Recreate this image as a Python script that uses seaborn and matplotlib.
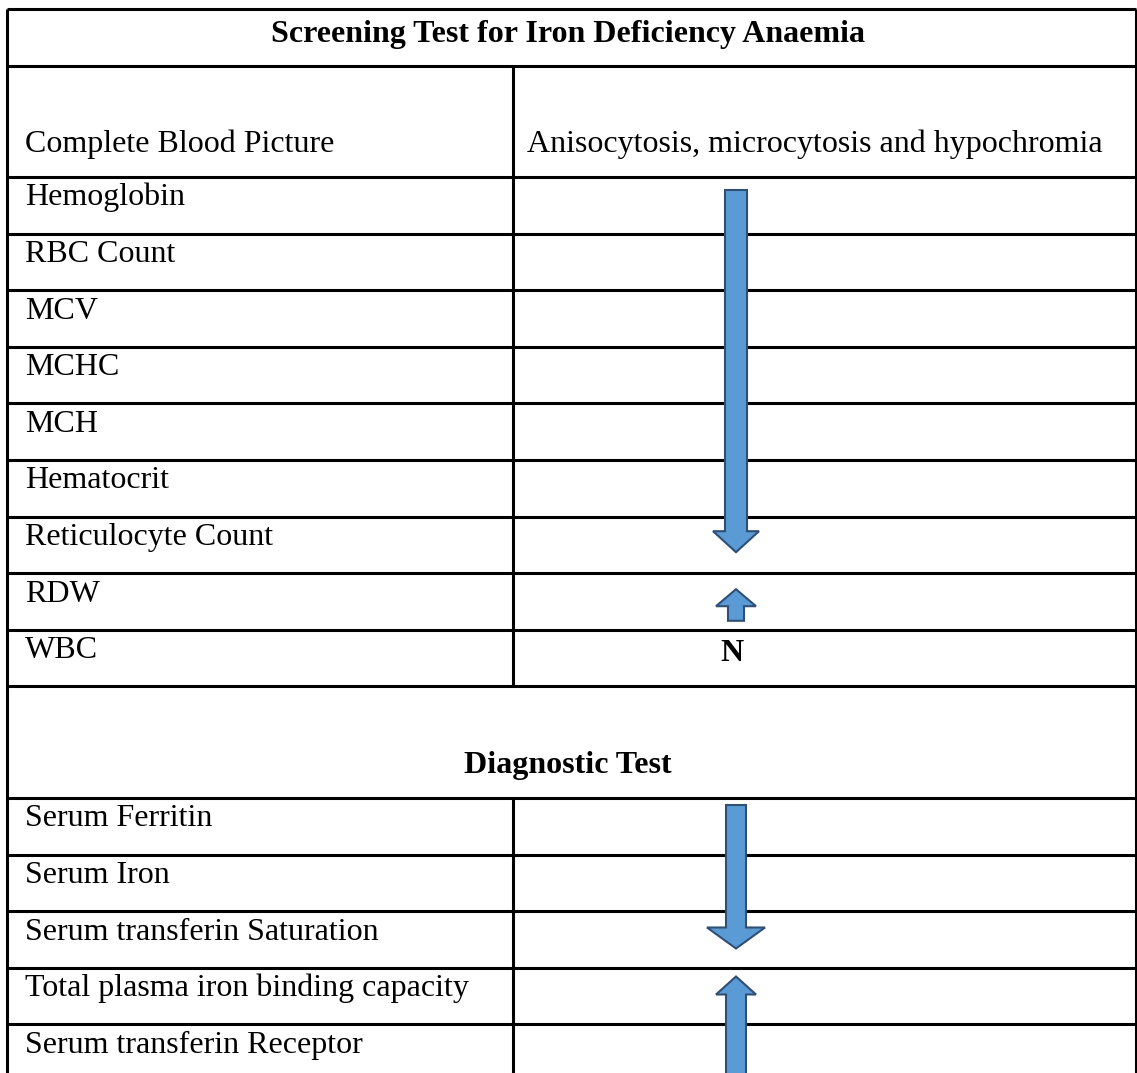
import numpy as np
import matplotlib.pyplot as plt
import seaborn as sns
from matplotlib.patches import FancyArrow

# table content
title = 'Screening Test for Iron Deficiency Anaemia'
header_left = 'Complete Blood Picture'
header_right = 'Anisocytosis, microcytosis and hypochromia'
screening_tests = ['Hemoglobin', 'RBC Count', 'MCV', 'MCHC', 'MCH', 'Hematocrit',
                   'Reticulocyte Count', 'RDW', 'WBC']
screening_trend = ['down', 'down', 'down', 'down', 'down', 'down', 'down', 'up', 'N']
diag_title = 'Diagnostic Test'
diagnostic_tests = ['Serum Ferritin', 'Serum Iron', 'Serum transferin Saturation',
                    'Total plasma iron binding capacity', 'Serum transferin Receptor']
diagnostic_trend = ['down', 'down', 'down', 'up', 'up']

sns.set_theme(style='white')
plt.rcParams['font.family'] = ['Liberation Serif', 'DejaVu Serif']
plt.rcParams['text.color'] = 'black'

W, H = 1137, 1073
fig = plt.figure(figsize=(W / 100, H / 100), dpi=100)
ax = fig.add_axes([0, 0, 1, 1])
ax.set_xlim(0, W)
ax.set_ylim(H, 0)
ax.axis('off')

# layout (pixels)
x_left, x_right, x_div = 7, 1136, 513
y_top, y_title, y_head = 9, 66, 177
screen_h = 56.6
y_screen_end = y_head + screen_h * len(screening_tests)
y_diag_title = 798
diag_h = 56.5
fs = 23.0
lw = 2.2
arrow_x = 736
fill_c, edge_c = '#5B9BD5', '#2F4F75'

screen_tops = y_head + screen_h * np.arange(len(screening_tests))
diag_tops = y_diag_title + diag_h * np.arange(len(diagnostic_tests))

# grid lines
h_lines = [y_top, y_title, y_head, *screen_tops[1:], y_screen_end, y_diag_title, *diag_tops[1:]]
ax.hlines(h_lines, x_left, x_right, color='black', lw=lw)
ax.vlines([x_left, x_right], y_top, H + 5, color='black', lw=lw)
ax.vlines(x_div, y_title, y_screen_end, color='black', lw=lw)
ax.vlines(x_div, y_diag_title, H + 5, color='black', lw=lw)

# texts
ax.text(568, y_top + 33, title, ha='center', va='baseline', fontsize=fs, fontweight='bold')
ax.text(25, y_head - 25, header_left, ha='left', va='baseline', fontsize=fs)
ax.text(527, y_head - 25, header_right, ha='left', va='baseline', fontsize=fs)
ax.text(568, y_diag_title - 25, diag_title, ha='center', va='baseline', fontsize=fs, fontweight='bold')
for top, name in zip(screen_tops, screening_tests):
    ax.text(25, top + 28.5, name, ha='left', va='baseline', fontsize=fs)
for top, name in zip(diag_tops, diagnostic_tests):
    ax.text(25, top + 28.5, name, ha='left', va='baseline', fontsize=fs)


def groups(trend):
    out, start = [], 0
    for i in range(1, len(trend) + 1):
        if i == len(trend) or trend[i] != trend[start]:
            out.append((trend[start], start, i - 1))
            start = i
    return out


# per-arrow shape: (top inset, bottom inset, shaft width, head width, head length)
shapes = {
    ('s', 0): (13, 21, 22, 46, 21),
    ('s', 7): (16, 9, 16, 40, 17),
    ('d', 0): (7, 19, 20, 58, 21),
    ('d', 3): (9, -10, 20, 40, 18),
}


def draw_col(tag, tops, rh, trend):
    for kind, a, b in groups(trend):
        if kind == 'N':
            for r in range(a, b + 1):
                ax.text(arrow_x - 4, tops[r] + 31, 'N', ha='center', va='baseline',
                        fontsize=fs, fontweight='bold')
            continue
        ti, bi, sw, hw, hl = shapes[(tag, a)]
        y0 = tops[a] + ti
        y1 = tops[b] + rh - bi
        if kind == 'down':
            start, dy = y0, y1 - y0
        else:
            start, dy = y1, y0 - y1
        ax.add_patch(FancyArrow(arrow_x, start, 0, dy, width=sw, head_width=hw,
                                head_length=hl, length_includes_head=True,
                                facecolor=fill_c, edgecolor=edge_c, lw=1.5, zorder=3))


draw_col('s', screen_tops, screen_h, screening_trend)
draw_col('d', diag_tops, diag_h, diagnostic_trend)

fig.savefig('out.png', dpi=100)
